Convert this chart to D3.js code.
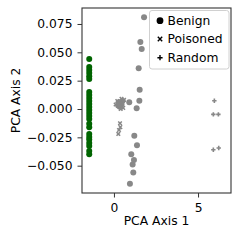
<!DOCTYPE html>
<html><head><meta charset="utf-8">
<script src="https://cdn.jsdelivr.net/npm/d3@7"></script>
<style>body{margin:0;background:#fff}svg{display:block}</style>
</head><body>
<script>
const xTicks = [0, 5];
const yTicks = [-0.050, -0.025, 0.000, 0.025, 0.050, 0.075];
const legendLabels = ["Benign", "Poisoned", "Random"];

// Green benign cluster (x, y)
const greenX = [-1.47,-1.47,-1.47,-1.47,-1.47,-1.47,-1.47,-1.47,-1.47,-1.47,-1.47,-1.47,-1.47,-1.47,-1.47,-1.47,-1.47,-1.47,-1.47,-1.47,-1.47,-1.47,-1.47,-1.47,-1.47];
const greenY = [0.044,0.037,0.0344,0.0318,0.029,0.0265,0.015,0.0124,0.0097,0.0071,0.0044,0.0018,-0.0009,-0.0035,-0.0062,-0.0088,-0.013,-0.016,-0.022,-0.0247,-0.027,-0.030,-0.0327,-0.037,-0.040];

// Gray circles
const grayCircX = [1.79,1.57,1.65,1.47,1.53,1.51,0.91,1.35,0.30,0.45,0.35,0.50,0.25,1.21,1.37,1.03,1.19,1.11,1.15,0.95];
const grayCircY = [0.081,0.059,0.053,0.036,0.017,0.0073,0.006,0.0006,0.006,0.004,0.002,0.007,0.003,-0.0235,-0.032,-0.040,-0.045,-0.049,-0.056,-0.066];

// Gray x markers (poisoned)
const poisX = [0.10,0.60,0.40,0.55,0.20,0.45,0.36,0.38,0.30,0.26];
const poisY = [0.004,0.008,0.000,0.001,0.007,0.009,-0.0126,-0.016,-0.0185,-0.022];

// Gray + markers (random)
const randX = [5.97,5.91,6.21,5.91,6.23];
const randY = [0.0073,-0.0047,-0.0047,-0.036,-0.0344];

const W = 241, H = 241;
const m = {l: 82, r: 231, t: 8, b: 193};
const x = d3.scaleLinear().domain([-1.9, 6.96]).range([m.l, m.r]);
const y = d3.scaleLinear().domain([-0.0741, 0.0891]).range([m.b, m.t]);

const svg = d3.select("body").append("svg").attr("width", W).attr("height", H);
const fs = 12.3;
const FF = "DejaVu Sans";

// Points
const gray = "#888888", green = "#006400";
const pts = svg.append("g");
greenY.forEach((v, i) => pts.append("circle").attr("cx", x(greenX[i])).attr("cy", y(v)).attr("r", 3).attr("fill", green));
grayCircY.forEach((v, i) => pts.append("circle").attr("cx", x(grayCircX[i])).attr("cy", y(v)).attr("r", 3).attr("fill", gray));
poisY.forEach((v, i) => {
  const cx = x(poisX[i]), cy = y(v), s = 1.8;
  pts.append("path").attr("d", `M${cx-s},${cy-s}L${cx+s},${cy+s}M${cx-s},${cy+s}L${cx+s},${cy-s}`).attr("stroke", gray).attr("stroke-width", 1.5);
});
randY.forEach((v, i) => {
  const cx = x(randX[i]), cy = y(v), s = 2.2;
  pts.append("path").attr("d", `M${cx-s},${cy}H${cx+s}M${cx},${cy-s}V${cy+s}`).attr("stroke", gray).attr("stroke-width", 1.6);
});

// Axes
const xAxis = d3.axisBottom(x).tickValues(xTicks).tickFormat(d3.format("d")).tickSize(4.5).tickPadding(5.5);
const yAxis = d3.axisLeft(y).tickValues(yTicks).tickFormat(d => d3.format(".3f")(d).replace("-", "\u2212")).tickSize(4.5).tickPadding(5);
const gx = svg.append("g").attr("transform", `translate(0,${m.b})`).call(xAxis);
const gy = svg.append("g").attr("transform", `translate(${m.l},0)`).call(yAxis);
[gx, gy].forEach(g => {
  g.attr("font-family", FF).attr("font-size", fs);
  g.select(".domain").remove();
  g.selectAll("line").attr("stroke", "#333").attr("stroke-width", 1);
  g.selectAll("text").attr("fill", "#000");
});
// Frame
svg.append("rect").attr("x", m.l).attr("y", m.t).attr("width", m.r - m.l).attr("height", m.b - m.t)
  .attr("fill", "none").attr("stroke", "#333").attr("stroke-width", 1.1);

// Axis labels
svg.append("text").attr("x", (m.l + m.r) / 2).attr("y", 224.5).attr("text-anchor", "middle")
  .style("font-family", FF).attr("font-size", fs).text("PCA Axis 1");
svg.append("text").attr("transform", `translate(19.5,${(m.t + m.b) / 2}) rotate(-90)`).attr("text-anchor", "middle")
  .style("font-family", FF).attr("font-size", fs).text("PCA Axis 2");

// Legend
const lg = svg.append("g");
lg.append("rect").attr("x", 149.5).attr("y", 10.5).attr("width", 79.5).attr("height", 58.5).attr("rx", 2.5)
  .attr("fill", "#fff").attr("fill-opacity", 0.8).attr("stroke", "#d0d0d0").attr("stroke-width", 1);
const ly = [20.7, 39, 57.7];
lg.append("circle").attr("cx", 160).attr("cy", ly[0]).attr("r", 3.4).attr("fill", "#000");
lg.append("path").attr("d", `M${157.8},${ly[1]-2.2}L${162.2},${ly[1]+2.2}M${157.8},${ly[1]+2.2}L${162.2},${ly[1]-2.2}`).attr("stroke", "#000").attr("stroke-width", 1.4);
lg.append("path").attr("d", `M${157.4},${ly[2]}H${162.6}M160,${ly[2]-2.6}V${ly[2]+2.6}`).attr("stroke", "#000").attr("stroke-width", 1.4);
legendLabels.forEach((t, i) => lg.append("text").attr("x", 167.5).attr("y", ly[i]).attr("dy", "0.35em")
  .style("font-family", FF).attr("font-size", fs).text(t));
</script>
</body></html>
